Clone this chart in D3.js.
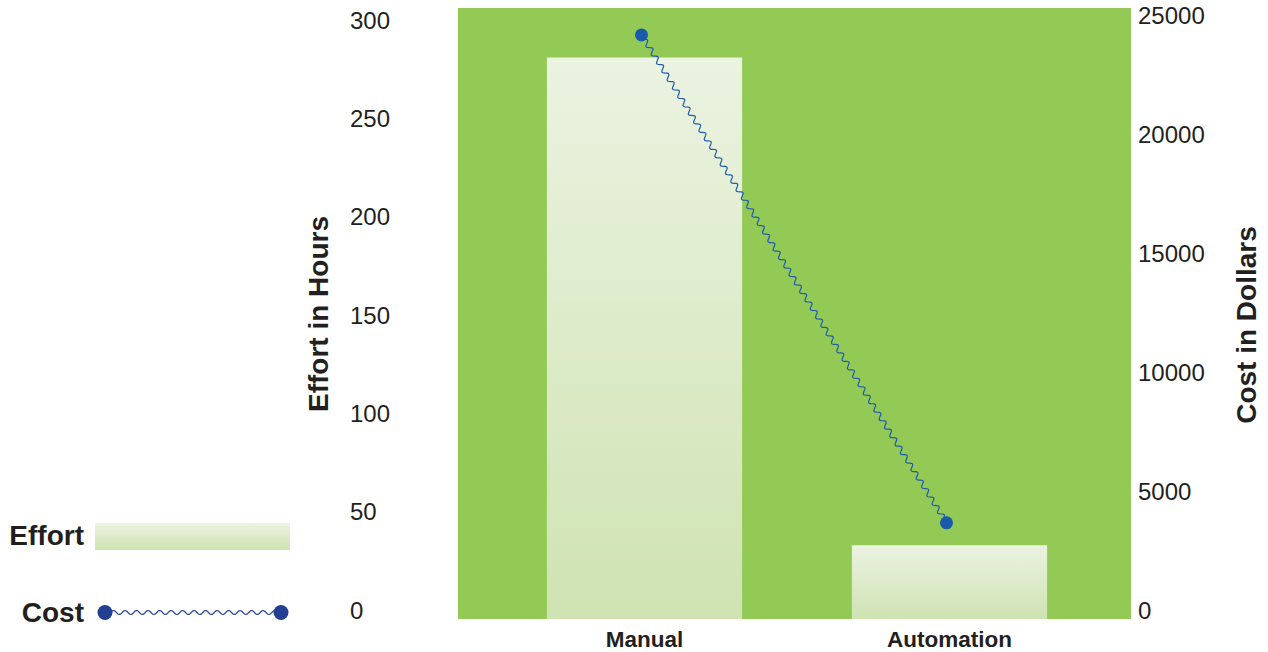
<!DOCTYPE html>
<html>
<head>
<meta charset="utf-8">
<script src="https://cdn.jsdelivr.net/npm/d3@7"></script>
<style>
  html, body { margin: 0; padding: 0; background: #ffffff; }
  svg { display: block; }
  text { font-family: "Liberation Sans", Arial, sans-serif; fill: #231f20; }
</style>
</head>
<body>
<svg id="chart" width="1268" height="652"></svg>
<script>
// Effort (hours, bars) and cost (dollars, line) for each approach
const categories = ["Manual", "Automation"];
const effortHours = [285, 37];
const costDollars = [24500, 4000];
const effortTicks = [0, 50, 100, 150, 200, 250, 300];
const costTicks = [0, 5000, 10000, 15000, 20000, 25000];

const svg = d3.select("#chart");

const plot = { left: 458, right: 1131, top: 8, bottom: 619 };

const x = d3.scaleBand()
  .domain(categories)
  .range([492, 1102])
  .paddingInner(0.36)
  .paddingOuter(0.18);

const yEffort = d3.scaleLinear().domain([0, 300]).range([618, 28]);
const yCost = d3.scaleLinear().domain([0, 25000]).range([618, 23]);

// gradients
const defs = svg.append("defs");
const grad = defs.append("linearGradient")
  .attr("id", "barGrad").attr("x1", 0).attr("y1", 0).attr("x2", 0).attr("y2", 1);
grad.append("stop").attr("offset", "0%").attr("stop-color", "#ebf3e1");
grad.append("stop").attr("offset", "100%").attr("stop-color", "#cfe3b2");

// plot background
svg.append("rect")
  .attr("x", plot.left).attr("y", plot.top)
  .attr("width", plot.right - plot.left).attr("height", plot.bottom - plot.top)
  .attr("fill", "#93c955");

// bars
svg.append("g").selectAll("rect")
  .data(categories)
  .join("rect")
  .attr("x", d => x(d))
  .attr("width", x.bandwidth())
  .attr("y", (d, i) => yEffort(effortHours[i]))
  .attr("height", (d, i) => plot.bottom - yEffort(effortHours[i]))
  .attr("fill", "url(#barGrad)");

// wavy segment between two points
function wavyPath(x0, y0, x1, y1, wavelength, amp) {
  const dx = x1 - x0, dy = y1 - y0;
  const len = Math.hypot(dx, dy);
  const ux = dx / len, uy = dy / len;
  const nx = -uy, ny = ux;
  const steps = Math.max(2, Math.round(len / 1));
  const pts = [];
  for (let s = 0; s <= steps; s++) {
    const t = (s / steps) * len;
    const o = amp * Math.sin((t / wavelength) * 2 * Math.PI);
    pts.push([x0 + ux * t + nx * o, y0 + uy * t + ny * o]);
  }
  return d3.line()(pts);
}

// cost line
const costPts = categories.map((c, i) => [x(c) + x.bandwidth() / 2 - 3, yCost(costDollars[i])]);
for (let i = 0; i < costPts.length - 1; i++) {
  svg.append("path")
    .attr("d", wavyPath(costPts[i][0], costPts[i][1], costPts[i + 1][0], costPts[i + 1][1], 10, 2.4))
    .attr("fill", "none")
    .attr("stroke", "#1f5bad")
    .attr("stroke-width", 1.2);
}
svg.append("g").selectAll("circle")
  .data(costPts)
  .join("circle")
  .attr("cx", d => d[0]).attr("cy", d => d[1]).attr("r", 6.5)
  .attr("fill", "#1a5aab");

// left axis
const leftAxis = svg.append("g")
  .attr("transform", "translate(350,0)")
  .call(d3.axisRight(yEffort).tickValues(effortTicks).tickSize(0).tickPadding(0));
leftAxis.select(".domain").remove();
leftAxis.selectAll("text")
  .attr("x", 0).attr("dy", 0)
  .attr("text-anchor", "start")
  .style("font-family", "'Liberation Sans', Arial, sans-serif")
  .style("font-size", "24px")
  .style("fill", "#231f20");

// right axis
const rightAxis = svg.append("g")
  .attr("transform", "translate(1138,0)")
  .call(d3.axisRight(yCost).tickValues(costTicks).tickSize(0).tickPadding(0).tickFormat(d3.format("d")));
rightAxis.select(".domain").remove();
rightAxis.selectAll("text")
  .attr("x", 0).attr("dy", 0)
  .attr("text-anchor", "start")
  .style("font-family", "'Liberation Sans', Arial, sans-serif")
  .style("font-size", "24px")
  .style("fill", "#231f20");

// category axis
const bottomAxis = svg.append("g")
  .attr("transform", `translate(0,${plot.bottom})`)
  .call(d3.axisBottom(x).tickSize(0).tickPadding(0));
bottomAxis.select(".domain").remove();
bottomAxis.selectAll("text")
  .attr("y", 28).attr("dy", 0)
  .style("font-family", "'Liberation Sans', Arial, sans-serif")
  .style("font-size", "22.5px")
  .style("font-weight", "bold")
  .style("fill", "#231f20");

// axis titles
svg.append("text")
  .attr("transform", "translate(328,314) rotate(-90)")
  .attr("text-anchor", "middle")
  .style("font-size", "28px").style("font-weight", "bold")
  .text("Effort in Hours");
svg.append("text")
  .attr("transform", "translate(1256,325) rotate(-90)")
  .attr("text-anchor", "middle")
  .style("font-size", "28px").style("font-weight", "bold")
  .text("Cost in Dollars");

// legend
const legend = svg.append("g");
legend.append("text")
  .attr("x", 84).attr("y", 545).attr("text-anchor", "end")
  .style("font-size", "28px").style("font-weight", "bold")
  .text("Effort");
legend.append("rect")
  .attr("x", 95).attr("y", 523).attr("width", 195).attr("height", 27)
  .attr("fill", "url(#barGrad)");
legend.append("text")
  .attr("x", 84).attr("y", 622).attr("text-anchor", "end")
  .style("font-size", "28px").style("font-weight", "bold")
  .text("Cost");
legend.append("path")
  .attr("d", wavyPath(105, 612.5, 281, 612.5, 11.5, 2))
  .attr("fill", "none").attr("stroke", "#24449a").attr("stroke-width", 1.2);
legend.selectAll("circle")
  .data([105, 281])
  .join("circle")
  .attr("cx", d => d).attr("cy", 612.5).attr("r", 7.5)
  .attr("fill", "#233f91");
</script>
</body>
</html>
